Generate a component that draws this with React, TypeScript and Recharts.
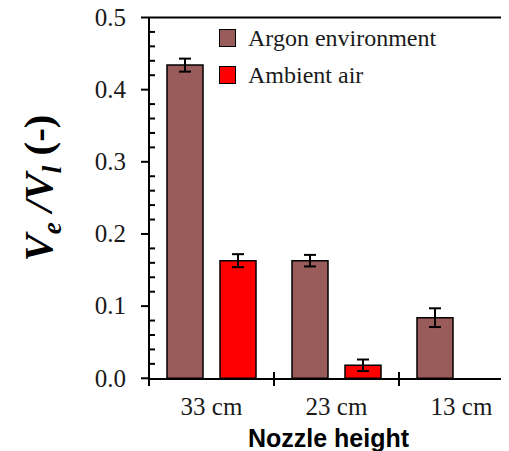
import {
  BarChart,
  Bar,
  XAxis,
  YAxis,
  ErrorBar,
  Legend,
  ReferenceLine,
  Customized,
} from "recharts";

const heights = ["33 cm", "23 cm", "13 cm"];
const argon = [0.434, 0.163, 0.084];
const argonErr = [0.009, 0.008, 0.013];
const air = [0.163, 0.018, 0];
const airErr = [0.009, 0.008, 0.001];
const yTicks = [
  0, 0.02, 0.04, 0.06, 0.08, 0.1, 0.12, 0.14, 0.16, 0.18, 0.2, 0.22, 0.24,
  0.26, 0.28, 0.3, 0.32, 0.34, 0.36, 0.38, 0.4, 0.42, 0.44, 0.46, 0.48, 0.5,
];
const seriesNames = ["Argon environment", "Ambient air"];
const seriesColors = ["#9A5B5B", "#FF0000"];

const data = heights.map((h, i) => ({
  height: h,
  argon: argon[i],
  argonErr: argonErr[i],
  air: air[i],
  airErr: airErr[i],
}));

const SERIF = "Liberation Serif, Times New Roman, serif";
const SANS = "Liberation Sans, Arial, sans-serif";
const W = 520;
const H = 451;
const LEFT = 141;
const RIGHT = 4;
const BAND = (W - LEFT - RIGHT) / heights.length;

function YTick(props: any) {
  const { x, y, payload } = props;
  const v = payload.value as number;
  const major = Math.abs(v * 10 - Math.round(v * 10)) < 1e-6;
  if (!major) {
    return <line x1={x} x2={x + 6} y1={y} y2={y} stroke="#000" strokeWidth={2} />;
  }
  return (
    <g>
      <line x1={x - 8} x2={x} y1={y} y2={y} stroke="#000" strokeWidth={2} />
      <text
        x={x - 23}
        y={y}
        dy="0.33em"
        textAnchor="end"
        style={{ fontFamily: SERIF }}
        fontSize={25}
        fill="#1a1a1a"
      >
        {v.toFixed(1)}
      </text>
    </g>
  );
}

function XTick(props: any) {
  const { x, y, payload } = props;
  const index = props.index ?? payload.index ?? 0;
  const left = x - BAND / 2;
  const right = x + BAND / 2;
  return (
    <g>
      <line
        x1={left}
        x2={left}
        y1={index === 0 ? y : y - 7}
        y2={y + 7}
        stroke="#000"
        strokeWidth={2}
      />
      {index === heights.length - 1 && (
        <line x1={right} x2={right} y1={y - 7} y2={y + 7} stroke="#000" strokeWidth={2} />
      )}
      <text
        x={x}
        y={y + 36}
        textAnchor="middle"
        style={{ fontFamily: SERIF }}
        fontSize={25}
        fill="#1a1a1a"
      >
        {payload.value}
      </text>
    </g>
  );
}

function LegendBox() {
  return (
    <div style={{ fontFamily: SERIF, fontSize: 24, lineHeight: 1, color: "#1a1a1a" }}>
      {seriesNames.map((name, i) => (
        <div key={name} style={{ display: "flex", alignItems: "center", height: 37 }}>
          <div
            style={{
              width: 17,
              height: 18,
              boxSizing: "border-box",
              border: "1.5px solid #000",
              background: seriesColors[i],
              marginRight: 12,
            }}
          />
          <span>{name}</span>
        </div>
      ))}
    </div>
  );
}

function Labels() {
  return (
    <g>
      <text
        transform="translate(44,188) rotate(-90)"
        textAnchor="middle"
        style={{ fontFamily: SERIF }}
        fontWeight="bold"
        fontSize={41}
        fill="#000"
      >
        <tspan fontStyle="italic">V</tspan>
        <tspan fontStyle="italic" fontSize={27} dy={9}>
          e
        </tspan>
        <tspan fontStyle="italic" dy={-9}>
          {" /V"}
        </tspan>
        <tspan fontStyle="italic" fontSize={27} dy={9}>
          l
        </tspan>
        <tspan dy={-9}>{" (-)"}</tspan>
      </text>
      <text
        x={320.5}
        y={447}
        textAnchor="middle"
        style={{ fontFamily: SANS }}
        fontWeight="bold"
        fontSize={25}
        fill="#000"
      >
        Nozzle height
      </text>
    </g>
  );
}

export default function App() {
  return (
    <div style={{ width: 501, height: H, overflow: "hidden", marginTop: -8 }}>
      <BarChart
        width={W}
        height={H}
        data={data}
        margin={{ top: 17.5, right: RIGHT, bottom: 0, left: 0 }}
        barGap={17}
      >
        <XAxis
          dataKey="height"
          type="category"
          height={72}
          interval={0}
          tickSize={0}
          tickMargin={0}
          tickLine={false}
          axisLine={{ stroke: "#000", strokeWidth: 2 }}
          tick={(p: any) => <XTick {...p} />}
        />
        <YAxis
          type="number"
          domain={[0, 0.5]}
          ticks={yTicks}
          interval={0}
          width={LEFT}
          tickSize={0}
          tickMargin={0}
          tickLine={false}
          axisLine={{ stroke: "#000", strokeWidth: 2 }}
          tick={(p: any) => <YTick {...p} />}
        />
        <ReferenceLine y={0.5} stroke="#000" strokeWidth={2} />
        <Legend
          layout="horizontal"
          verticalAlign="middle"
          align="center"
          wrapperStyle={{ top: 19.5, left: 211, width: 300, height: 74 }}
          content={() => <LegendBox />}
        />
        <Bar
          dataKey="argon"
          name={seriesNames[0]}
          fill={seriesColors[0]}
          stroke="#000"
          strokeWidth={1.5}
          barSize={36}
          isAnimationActive={false}
        >
          <ErrorBar
            dataKey="argonErr"
            direction="y"
            width={6}
            stroke="#000"
            strokeWidth={2}
            isAnimationActive={false}
          />
        </Bar>
        <Bar
          dataKey="air"
          name={seriesNames[1]}
          fill={seriesColors[1]}
          stroke="#000"
          strokeWidth={1.5}
          barSize={36}
          isAnimationActive={false}
        >
          <ErrorBar
            dataKey="airErr"
            direction="y"
            width={6}
            stroke="#000"
            strokeWidth={2}
            isAnimationActive={false}
          />
        </Bar>
        <Customized component={Labels} />
      </BarChart>
    </div>
  );
}
